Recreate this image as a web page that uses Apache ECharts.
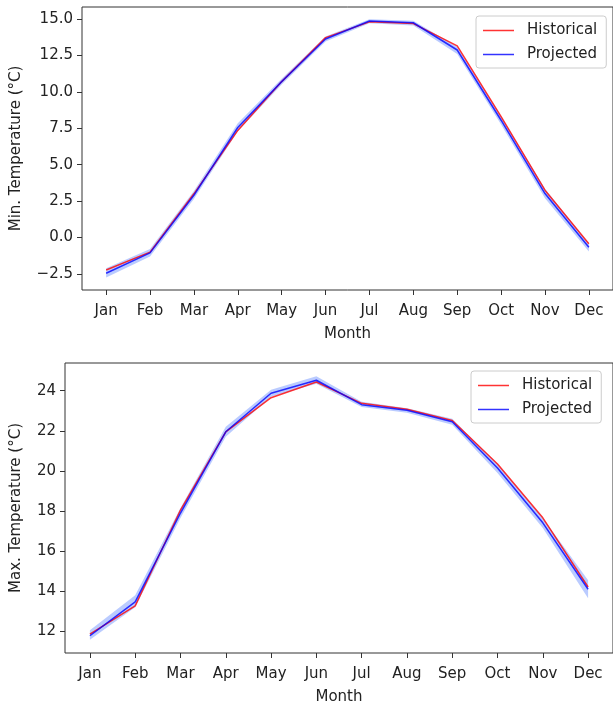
<!DOCTYPE html>
<html>
<head>
<meta charset="utf-8">
<script src="https://cdn.jsdelivr.net/npm/echarts@6/dist/echarts.min.js"></script>
<style>
  html, body { margin: 0; padding: 0; background: #fff; }
  #chart { width: 613px; height: 706px; }
</style>
</head>
<body>
<div id="chart"></div>
<script>
const months = ['Jan', 'Feb', 'Mar', 'Apr', 'May', 'Jun', 'Jul', 'Aug', 'Sep', 'Oct', 'Nov', 'Dec']

// min temperature (top panel)
const minHist = [-2.23, -1.0, 3.0, 7.35, 10.7, 13.72, 14.8, 14.68, 13.15, 8.3, 3.25, -0.42]
const minProj = [-2.45, -1.05, 2.9, 7.55, 10.7, 13.62, 14.86, 14.74, 12.87, 8.05, 3.02, -0.67]
const minProjLow = [-2.75, -1.3, 2.65, 7.3, 10.5, 13.45, 14.7, 14.55, 12.6, 7.75, 2.7, -0.95]
const minProjHigh = [-2.1, -0.78, 3.2, 7.85, 10.9, 13.8, 14.98, 14.88, 13.1, 8.3, 3.35, -0.42]
const minTicks = [-2.5, 0, 2.5, 5, 7.5, 10, 12.5, 15]

// max temperature (bottom panel)
const maxHist = [11.86, 13.27, 18.05, 21.95, 23.65, 24.43, 23.37, 23.07, 22.51, 20.34, 17.66, 14.21]
const maxProj = [11.78, 13.47, 17.9, 21.95, 23.87, 24.52, 23.3, 23.02, 22.45, 20.14, 17.41, 14.1]
const maxProjLow = [11.58, 13.2, 17.65, 21.7, 23.7, 24.35, 23.18, 22.9, 22.3, 19.9, 17.15, 13.65]
const maxProjHigh = [12.05, 13.8, 18.15, 22.2, 24.05, 24.72, 23.45, 23.12, 22.6, 20.35, 17.65, 14.55]
const maxTicks = [12, 14, 16, 18, 20, 22, 24]

const monthIdx = months.map((m, i) => i)
const font = 'DejaVu Sans'
const txt = '#222'
const frame = '#333'
const bandColor = 'rgba(90, 130, 255, 0.42)'

const pairs = arr => arr.map((v, i) => [i, v])
const fmtMinus = s => String(s).replace('-', '\u2212')

function xAxisOf(gi) {
  return {
    gridIndex: gi, type: 'value', min: -0.55, max: 11.55,
    name: 'Month', nameLocation: 'middle', nameGap: 37,
    nameTextStyle: { fontFamily: font, fontSize: 15, color: txt },
    axisLine: { show: false, onZero: false },
    axisTick: { show: true, length: 5, customValues: monthIdx, lineStyle: { color: frame } },
    axisLabel: { customValues: monthIdx, margin: 14, fontFamily: font, fontSize: 15, color: txt,
      formatter: v => months[v] },
    splitLine: { show: false }
  }
}

function yAxisOf(gi, name, min, max, ticks, gap, dec) {
  return {
    gridIndex: gi, type: 'value', min: min, max: max,
    name: name, nameLocation: 'middle', nameGap: gap,
    nameTextStyle: { fontFamily: font, fontSize: 15, color: txt },
    axisLine: { show: false, onZero: false },
    axisTick: { show: true, length: 5, customValues: ticks, lineStyle: { color: frame } },
    axisLabel: { customValues: ticks, margin: 9, fontFamily: font, fontSize: 15, color: txt,
      formatter: v => fmtMinus(v.toFixed(dec)) },
    splitLine: { show: false }
  }
}

function band(gi, low, high) {
  return {
    type: 'custom', xAxisIndex: gi, yAxisIndex: gi, silent: true,
    data: [[0, low[0]]],
    renderItem: function (params, api) {
      const pts = []
      for (let i = 0; i < high.length; i++) pts.push(api.coord([i, high[i]]))
      for (let i = low.length - 1; i >= 0; i--) pts.push(api.coord([i, low[i]]))
      return { type: 'polygon', shape: { points: pts }, style: { fill: bandColor } }
    }
  }
}

function line(gi, name, data, color) {
  return {
    name: name, type: 'line', xAxisIndex: gi, yAxisIndex: gi,
    data: pairs(data), symbol: 'none', color: color,
    lineStyle: { width: 1.5, color: color }
  }
}

function legendOf(left, top) {
  return {
    orient: 'vertical', left: left, top: top,
    data: ['Historical', 'Projected'],
    icon: 'rect', itemWidth: 31, itemHeight: 1.5, itemGap: 9,
    padding: [7, 9, 6, 7],
    borderColor: '#ccc', borderWidth: 1, borderRadius: 3,
    backgroundColor: 'rgba(255,255,255,0.8)',
    textStyle: { fontFamily: font, fontSize: 15, color: txt, padding: [0, 0, 0, 8] }
  }
}

const chart = echarts.init(document.getElementById('chart'))

chart.setOption({
  animation: false,
  backgroundColor: '#fff',
  grid: [
    { left: 82, top: 7, width: 533, height: 283, show: true, borderColor: frame, borderWidth: 1 },
    { left: 65, top: 363, width: 551, height: 291, show: true, borderColor: frame, borderWidth: 1 }
  ],
  xAxis: [xAxisOf(0), xAxisOf(1)],
  yAxis: [
    yAxisOf(0, 'Min. Temperature (°C)', -3.6, 15.82, minTicks, 58, 1),
    yAxisOf(1, 'Max. Temperature (°C)', 10.92, 25.38, maxTicks, 41, 0)
  ],
  legend: [legendOf(476, 16), legendOf(471, 371)],
  series: [
    band(0, minProjLow, minProjHigh),
    line(0, 'Historical', minHist, 'rgba(255,0,0,0.8)'),
    line(0, 'Projected', minProj, 'rgba(0,0,255,0.8)'),
    band(1, maxProjLow, maxProjHigh),
    line(1, 'Historical', maxHist, 'rgba(255,0,0,0.8)'),
    line(1, 'Projected', maxProj, 'rgba(0,0,255,0.8)')
  ]
})
</script>
</body>
</html>
